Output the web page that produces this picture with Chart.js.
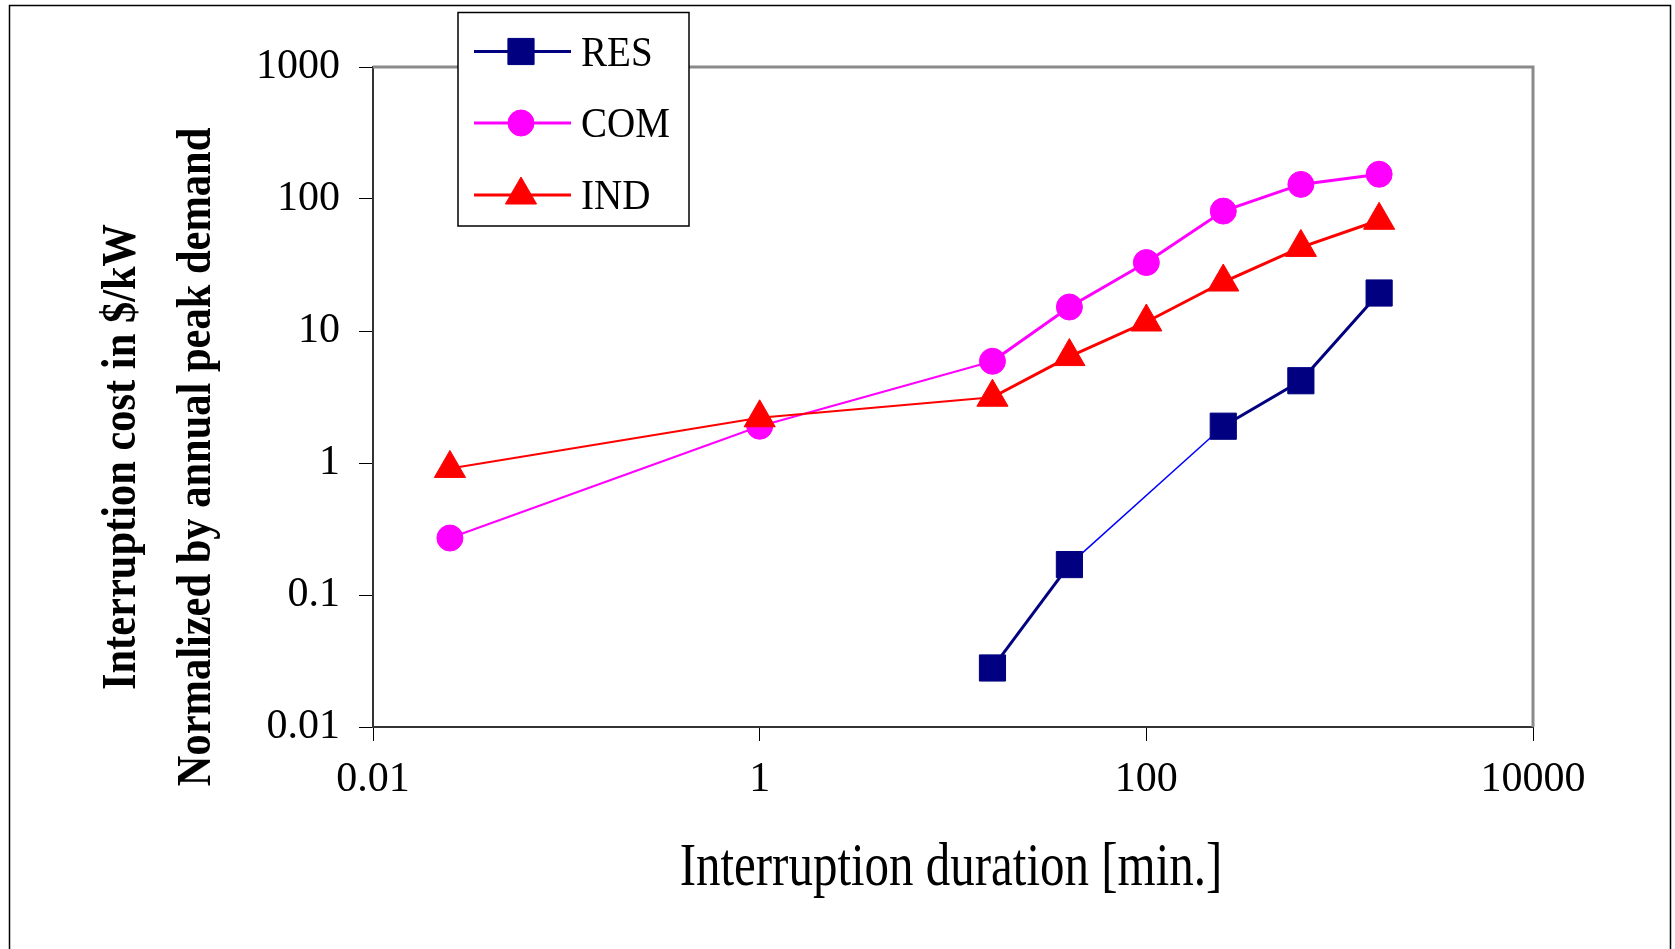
<!DOCTYPE html>
<html>
<head>
<meta charset="utf-8">
<title>Interruption cost vs duration</title>
<script src="https://cdn.jsdelivr.net/npm/chart.js@4"></script>
<style>
  html, body { margin: 0; padding: 0; background: #fff; }
  canvas { display: block; }
</style>
</head>
<body>
<canvas id="costChart" width="1675" height="949"></canvas>
<script>
// values
const durations = [0.025, 1, 16, 40, 100, 250, 630, 1600]; // minutes
const resCost = [null, null, 0.028, 0.17, null, 1.9, 4.2, 19.4];
const comCost = [0.27, 1.9, 5.9, 15.2, 33, 81, 129, 154];
const indCost = [0.91, 2.2, 3.15, 6.4, 11.7, 23.5, 43, 69];

const seriesNames = ['RES', 'COM', 'IND'];
const xTickValues = [0.01, 1, 100, 10000];
const xTickLabels = ['0.01', '1', '100', '10000'];
const yTickValues = [0.01, 0.1, 1, 10, 100, 1000];
const yTickLabels = ['0.01', '0.1', '1', '10', '100', '1000'];

const xTitle = 'Interruption duration [min.]';
const yTitle = ['Interruption cost in $/kW', 'Normalized by annual peak demand'];

const serif = "'Liberation Serif', 'Times New Roman', serif";
Chart.defaults.font.family = serif;
Chart.defaults.color = '#000';

function toPoints(values) {
    return durations.map(function (d, i) { return { x: d, y: values[i] }; });
}

// first two segments are drawn thinner in the original
const thinStart = function (ctx) { return ctx.p1DataIndex <= 2 ? 2 : 3; };

// RES: the segment that jumps over the missing value is a thin blue line
function spansGap(ctx) {
    return resCost[ctx.p0DataIndex] === null && ctx.p0DataIndex > 0 && resCost[ctx.p0DataIndex - 1] !== null;
}

function drawMarker(ctx, style, radius, x, y) {
    if (Chart.helpers && Chart.helpers.drawPoint) {
        Chart.helpers.drawPoint(ctx, { pointStyle: style, radius: radius, rotation: 0, borderWidth: 1 }, x, y);
        return;
    }
    ctx.beginPath();
    if (style === 'circle') {
        ctx.arc(x, y, radius, 0, Math.PI * 2);
    } else if (style === 'rect') {
        const s = radius * Math.SQRT1_2;
        ctx.rect(x - s, y - s, 2 * s, 2 * s);
    } else {
        ctx.moveTo(x, y - radius);
        ctx.lineTo(x + 0.866 * radius, y + radius / 2);
        ctx.lineTo(x - 0.866 * radius, y + radius / 2);
        ctx.closePath();
    }
    ctx.fill();
    ctx.stroke();
}

const decorPlugin = {
    id: 'decor',
    beforeDraw(chart) {
        const ctx = chart.ctx;
        ctx.save();
        ctx.strokeStyle = '#000';
        ctx.lineWidth = 1.5;
        ctx.strokeRect(9.5, 5.5, 1661, 960);
        ctx.restore();
    },
    beforeDatasetsDraw(chart) {
        const a = chart.chartArea;
        const ctx = chart.ctx;
        ctx.save();
        ctx.strokeStyle = '#8a8a8a';
        ctx.lineWidth = 3;
        ctx.beginPath();
        ctx.moveTo(a.left, a.top);
        ctx.lineTo(a.right, a.top);
        ctx.lineTo(a.right, a.bottom);
        ctx.stroke();
        ctx.restore();
    },
    afterDraw(chart) {
        const a = chart.chartArea;
        const ctx = chart.ctx;
        ctx.save();
        ctx.fillStyle = '#000';

        // x axis title
        ctx.save();
        ctx.font = '62px ' + serif;
        ctx.textAlign = 'center';
        ctx.textBaseline = 'alphabetic';
        ctx.translate((a.left + a.right) / 2 - 2, 885);
        ctx.scale(0.79, 1);
        ctx.fillText(xTitle, 0, 0);
        ctx.restore();

        // y axis title, two lines
        const yBase = [135, 210];
        yTitle.forEach(function (line, i) {
            ctx.save();
            ctx.font = 'bold 48px ' + serif;
            ctx.textAlign = 'center';
            ctx.textBaseline = 'alphabetic';
            ctx.translate(yBase[i], 457);
            ctx.rotate(-Math.PI / 2);
            ctx.scale(0.885, 1);
            ctx.fillText(line, 0, 0);
            ctx.restore();
        });

        // legend box
        const box = { left: 458, top: 12.5, right: 689, bottom: 226 };
        ctx.fillStyle = '#fff';
        ctx.fillRect(box.left, box.top, box.right - box.left, box.bottom - box.top);
        ctx.strokeStyle = '#000';
        ctx.lineWidth = 1.5;
        ctx.strokeRect(box.left, box.top, box.right - box.left, box.bottom - box.top);

        const rowY = [51.5, 123, 195];
        chart.data.datasets.forEach(function (ds, i) {
            const y = rowY[i];
            ctx.strokeStyle = ds.borderColor;
            ctx.lineWidth = 3;
            ctx.beginPath();
            ctx.moveTo(474, y);
            ctx.lineTo(571, y);
            ctx.stroke();
            ctx.fillStyle = ds.pointBackgroundColor;
            ctx.strokeStyle = ds.pointBorderColor;
            ctx.lineWidth = 1;
            drawMarker(ctx, ds.pointStyle, ds.pointRadius, 521, y);

            ctx.save();
            ctx.fillStyle = '#000';
            ctx.font = '42px ' + serif;
            ctx.textAlign = 'left';
            ctx.textBaseline = 'alphabetic';
            ctx.translate(581, y + 14);
            ctx.scale(0.93, 1);
            ctx.fillText(ds.label, 0, 0);
            ctx.restore();
        });
        ctx.restore();
    }
};

const tickFont = { family: serif, size: 42 };

const costChart = new Chart(document.getElementById('costChart').getContext('2d'), {
    type: 'line',
    data: {
        datasets: [
            {
                label: seriesNames[0],
                data: toPoints(resCost),
                borderColor: '#000080',
                borderWidth: 3,
                pointStyle: 'rect',
                pointRadius: 18.5,
                pointBackgroundColor: '#000080',
                pointBorderColor: '#000080',
                pointBorderWidth: 1,
                spanGaps: true,
                order: 2,
                segment: {
                    borderColor: ctx => (spansGap(ctx) ? '#0000ff' : undefined),
                    borderWidth: ctx => (spansGap(ctx) ? 1.5 : undefined)
                }
            },
            {
                label: seriesNames[1],
                data: toPoints(comCost),
                borderColor: '#ff00ff',
                borderWidth: 3,
                pointStyle: 'circle',
                pointRadius: 13,
                pointBackgroundColor: '#ff00ff',
                pointBorderColor: '#ff00ff',
                pointBorderWidth: 1,
                order: 1,
                segment: { borderWidth: thinStart }
            },
            {
                label: seriesNames[2],
                data: toPoints(indCost),
                borderColor: '#ff0000',
                borderWidth: 3,
                pointStyle: 'triangle',
                pointRadius: 18,
                pointBackgroundColor: '#ff0000',
                pointBorderColor: '#ff0000',
                pointBorderWidth: 1,
                order: 0,
                segment: { borderWidth: thinStart }
            }
        ]
    },
    options: {
        responsive: false,
        animation: false,
        devicePixelRatio: 1,
        tension: 0,
        layout: { padding: { left: 0, top: 67, right: 142, bottom: 0 } },
        scales: {
            x: {
                type: 'logarithmic',
                position: 'bottom',
                min: 0.01,
                max: 10000,
                afterBuildTicks: function (scale) {
                    scale.ticks = xTickValues.map(v => ({ value: v }));
                },
                afterFit: function (scale) { scale.height = 222; },
                ticks: {
                    callback: (v, i) => xTickLabels[i],
                    font: tickFont,
                    color: '#000',
                    padding: 14,
                    maxRotation: 0,
                    autoSkip: false
                },
                grid: { drawOnChartArea: false, drawTicks: true, tickLength: 14, color: '#000', lineWidth: 1 },
                border: { display: true, color: '#333', width: 2 }
            },
            y: {
                type: 'logarithmic',
                position: 'left',
                min: 0.01,
                max: 1000,
                afterBuildTicks: function (scale) {
                    scale.ticks = yTickValues.map(v => ({ value: v }));
                },
                afterFit: function (scale) { scale.width = 373; },
                ticks: {
                    callback: (v, i) => yTickLabels[i],
                    font: tickFont,
                    color: '#000',
                    padding: 19,
                    autoSkip: false
                },
                grid: { drawOnChartArea: false, drawTicks: true, tickLength: 14, color: '#000', lineWidth: 1 },
                border: { display: true, color: '#333', width: 2 }
            }
        },
        plugins: {
            legend: { display: false },
            tooltip: { enabled: false },
            title: { display: false }
        }
    },
    plugins: [decorPlugin]
});
</script>
</body>
</html>
